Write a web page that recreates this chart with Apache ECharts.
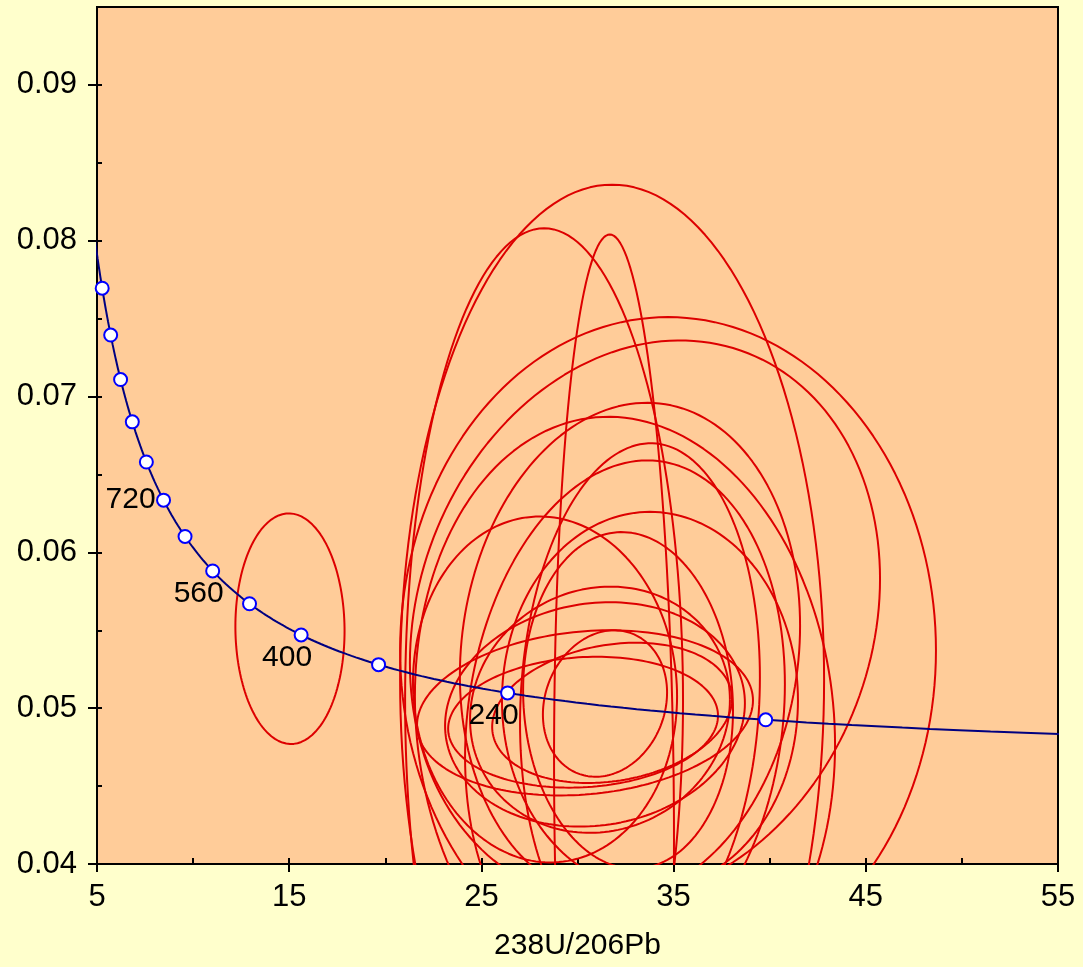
<!DOCTYPE html>
<html>
<head>
<meta charset="utf-8">
<script src="https://cdn.jsdelivr.net/npm/echarts@6/dist/echarts.min.js"></script>
<style>
html,body{margin:0;padding:0;background:#FFFFCC}
#chart{width:1083px;height:967px}
</style>
</head>
<body>
<div id="chart"></div>
<script>
// axis ticks
const xLabels = [5, 15, 25, 35, 45, 55]
const xTicks = [5, 10, 15, 20, 25, 30, 35, 40, 45, 50, 55]
const yLabels = [0.04, 0.05, 0.06, 0.07, 0.08, 0.09]
const yTicks = [0.04, 0.045, 0.05, 0.055, 0.06, 0.065, 0.07, 0.075, 0.08, 0.085, 0.09]

// concordia age marks (Ma), labelled ones
const markerAges = [160, 240, 320, 400, 480, 560, 640, 720, 800, 880, 960, 1040, 1120]
const labelAges = [240, 400, 560, 720]

// error ellipses: centre, half width (238U/206Pb), half height (207Pb/206Pb), correlation
const ellX = [15.04, 31.80, 28.26, 31.90, 34.71, 33.51, 32.73, 32.47, 33.25, 32.47, 28.31, 33.77, 32.63, 31.17, 30.91, 31.43, 31.80, 30.39, 30.29]
const ellY = [0.0551, 0.0518, 0.0505, 0.0441, 0.0537, 0.0556, 0.0537, 0.0492, 0.0505, 0.0492, 0.0512, 0.0505, 0.0505, 0.0499, 0.0496, 0.0503, 0.0497, 0.0497, 0.0491]
const ellW = [2.84, 11.03, 7.23, 3.12, 13.94, 12.23, 8.85, 10.93, 6.24, 8.32, 6.87, 7.70, 5.46, 6.76, 7.80, 3.23, 6.24, 8.74, 7.02]
const ellH = [0.0074, 0.0318, 0.0303, 0.0363, 0.0214, 0.0180, 0.0159, 0.0195, 0.0165, 0.0167, 0.0111, 0.0121, 0.0108, 0.0079, 0.0072, 0.0047, 0.0045, 0.0053, 0.0042]
const ellRho = [-0.02, 0, 0, -0.07, 0, 0.15, 0.1, -0.08, 0.09, 0.14, -0.04, 0, -0.06, 0.08, 0.1, 0.15, 0.2, 0.15, 0.1]

const L238 = 1.55125e-10
const L235 = 9.8485e-10
const U85 = 137.88

function concordia(ageMa){
    const t = ageMa * 1e6
    const e8 = Math.exp(L238 * t) - 1
    const e5 = Math.exp(L235 * t) - 1
    return [1 / e8, e5 / e8 / U85]
}

function ellipsePoints(i){
    const pts = []
    const s = Math.sqrt(1 - ellRho[i] * ellRho[i])
    for (let d = 0; d <= 360; d += 2) {
        const a = d * Math.PI / 180
        pts.push([
            ellX[i] + ellW[i] * Math.cos(a),
            ellY[i] + ellH[i] * (ellRho[i] * Math.cos(a) + s * Math.sin(a))
        ])
    }
    return pts
}

let curve = []
for (let age = 100; age <= 1200; age += 4) curve.push(concordia(age))

const font = "Liberation Sans, Arial, sans-serif"

const series = []
for (let i = 0; i < ellX.length; i++) {
    series.push({
        type: "line",
        data: ellipsePoints(i),
        showSymbol: false,
        silent: true,
        lineStyle: { color: "#DD0000", width: 2 },
        z: 2
    })
}
series.push({
    type: "line",
    data: curve,
    showSymbol: false,
    silent: true,
    lineStyle: { color: "#000080", width: 2 },
    z: 3
})
series.push({
    type: "scatter",
    data: markerAges.map(a => {
        const p = { value: concordia(a) }
        if (labelAges.includes(a)) {
            p.label = {
                show: true,
                formatter: String(a),
                position: "inside",
                color: "#000",
                fontSize: 30,
                fontFamily: font,
                offset: a === 720 ? [-33, 0] : [-14, 23]
            }
        }
        return p
    }),
    symbol: "circle",
    symbolSize: 13,
    itemStyle: { color: "#FFFFFF", borderColor: "#0000FF", borderWidth: 2, opacity: 1 },
    emphasis: { disabled: true },
    z: 4
})

const chart = echarts.init(document.getElementById("chart"))
chart.setOption({
    backgroundColor: "#FFFFCC",
    animation: false,
    grid: {
        left: 97, right: 25, top: 7, bottom: 103,
        show: true,
        backgroundColor: "#FFCC99",
        borderColor: "#000",
        borderWidth: 2
    },
    xAxis: [{
        type: "value", min: 5, max: 55,
        name: "238U/206Pb", nameLocation: "middle", nameGap: 67,
        nameTextStyle: { color: "#000", fontSize: 30, fontFamily: font },
        axisLine: { lineStyle: { color: "#000", width: 2 } },
        axisTick: { customValues: xLabels, inside: false, length: 8, lineStyle: { color: "#000", width: 2 } },
        axisLabel: { customValues: xLabels, color: "#000", fontSize: 31, fontFamily: font, margin: 18 },
        splitLine: { show: false }
    }, {
        type: "value", min: 5, max: 55, position: "bottom",
        axisLine: { show: false },
        axisTick: { customValues: xTicks, inside: true, length: 6, lineStyle: { color: "#000", width: 2 } },
        axisLabel: { show: false },
        splitLine: { show: false }
    }],
    yAxis: [{
        type: "value", min: 0.04, max: 0.095,
        axisLine: { lineStyle: { color: "#000", width: 2 } },
        axisTick: { customValues: yLabels, inside: false, length: 9, lineStyle: { color: "#000", width: 2 } },
        axisLabel: {
            customValues: yLabels, color: "#000", fontSize: 31, fontFamily: font, margin: 20,
            formatter: v => v.toFixed(2)
        },
        splitLine: { show: false }
    }, {
        type: "value", min: 0.04, max: 0.095, position: "left",
        axisLine: { show: false },
        axisTick: { customValues: yTicks, inside: true, length: 5, lineStyle: { color: "#000", width: 2 } },
        axisLabel: { show: false },
        splitLine: { show: false }
    }],
    series: series
})
</script>
</body>
</html>
